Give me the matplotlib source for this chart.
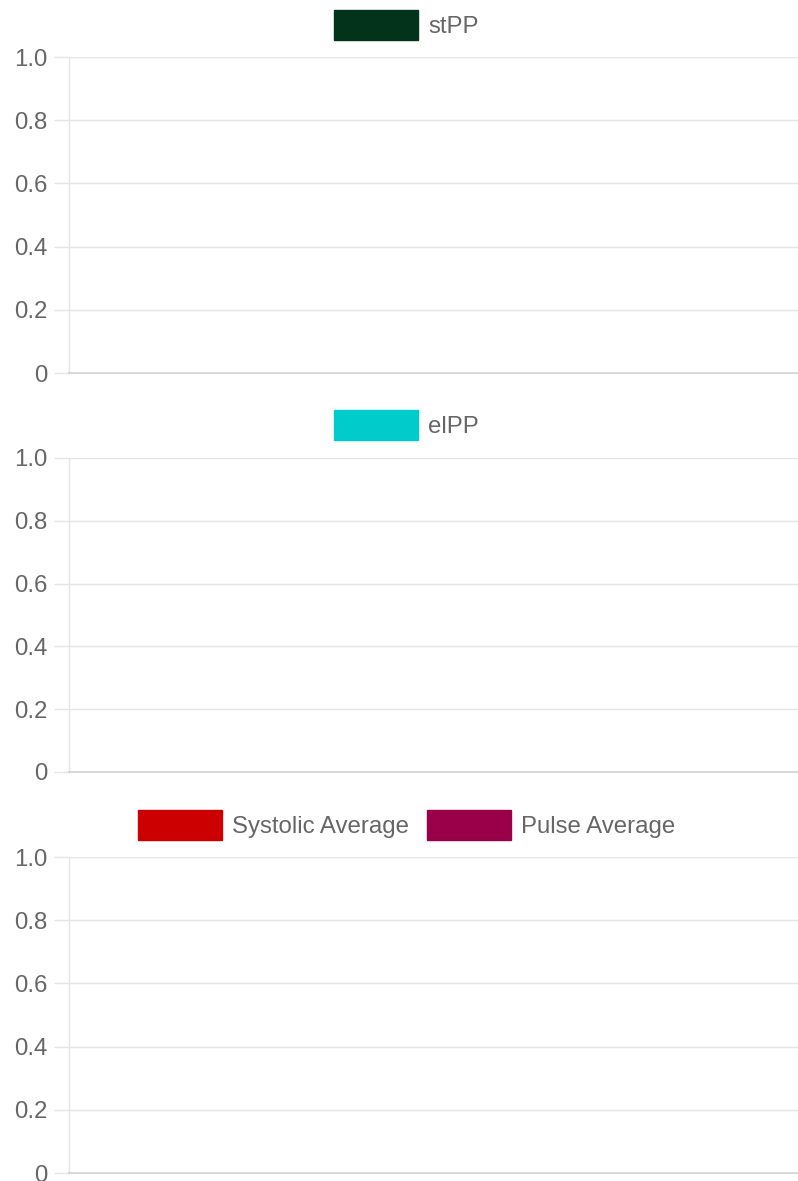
import matplotlib.pyplot as plt
from matplotlib.patches import Patch

# three empty charts, only legends and y axes are shown
labels_1 = ["stPP"]
colors_1 = ["#03331a"]
values_1 = [[]]

labels_2 = ["elPP"]
colors_2 = ["#00cccc"]
values_2 = [[]]

labels_3 = ["Systolic Average", "Pulse Average"]
colors_3 = ["#cc0000", "#990049"]
values_3 = [[], []]

yticks = [0, 0.2, 0.4, 0.6, 0.8, 1.0]
ytick_labels = ["0", "0.2", "0.4", "0.6", "0.8", "1.0"]

W, H = 798, 1181
DPI = 100
FS = 24 * 72 / DPI   # 24px font
grid_col = "#e5e5e5"
text_col = "#666666"

plt.rcParams['font.family'] = ['Liberation Sans', 'DejaVu Sans']

fig = plt.figure(figsize=(W / DPI, H / DPI), dpi=DPI)

# (top px of 1.0, bottom px of 0, legend center y px)
panels = [
    (57, 373, 25, labels_1, colors_1, values_1),
    (458, 772, 425, labels_2, colors_2, values_2),
    (857, 1173, 825, labels_3, colors_3, values_3),
]

left, right = 69, 798
for top, bottom, leg_y, labels, colors, values in panels:
    ax = fig.add_axes([left / W, 1 - bottom / H, (right - left) / W, (bottom - top) / H])
    for i, vals in enumerate(values):
        ax.bar(range(len(vals)), vals, color=colors[i], label=labels[i])
    ax.set_ylim(0, 1)
    ax.set_xlim(0, 1)
    ax.set_yticks(yticks)
    ax.set_yticklabels(ytick_labels)
    ax.set_xticks([])
    ax.grid(axis="y", color=grid_col, lw=1.0)
    ax.set_axisbelow(True)
    ax.tick_params(axis="y", length=10.8, width=1.0, color=grid_col,
                   labelcolor=text_col, labelsize=FS, pad=5)
    for s in ["top", "right"]:
        ax.spines[s].set_visible(False)
    ax.spines["left"].set_color(grid_col)
    ax.spines["bottom"].set_color("#d2d2d2")
    ax.spines["left"].set_linewidth(1.0)
    ax.spines["bottom"].set_linewidth(1.2)

    handles = [Patch(facecolor=c, edgecolor=c, lw=1.0) for c in colors]
    leg = ax.legend(handles, labels, loc="center", ncol=len(labels),
                    bbox_to_anchor=(406.5 / W, 1 - leg_y / H),
                    bbox_transform=fig.transFigure, frameon=False,
                    fontsize=FS, handlelength=3.5, handleheight=1.55,
                    handletextpad=0.42, columnspacing=0.75, borderpad=0)
    for t in leg.get_texts():
        t.set_color(text_col)

fig.savefig("out.png", dpi=DPI)
